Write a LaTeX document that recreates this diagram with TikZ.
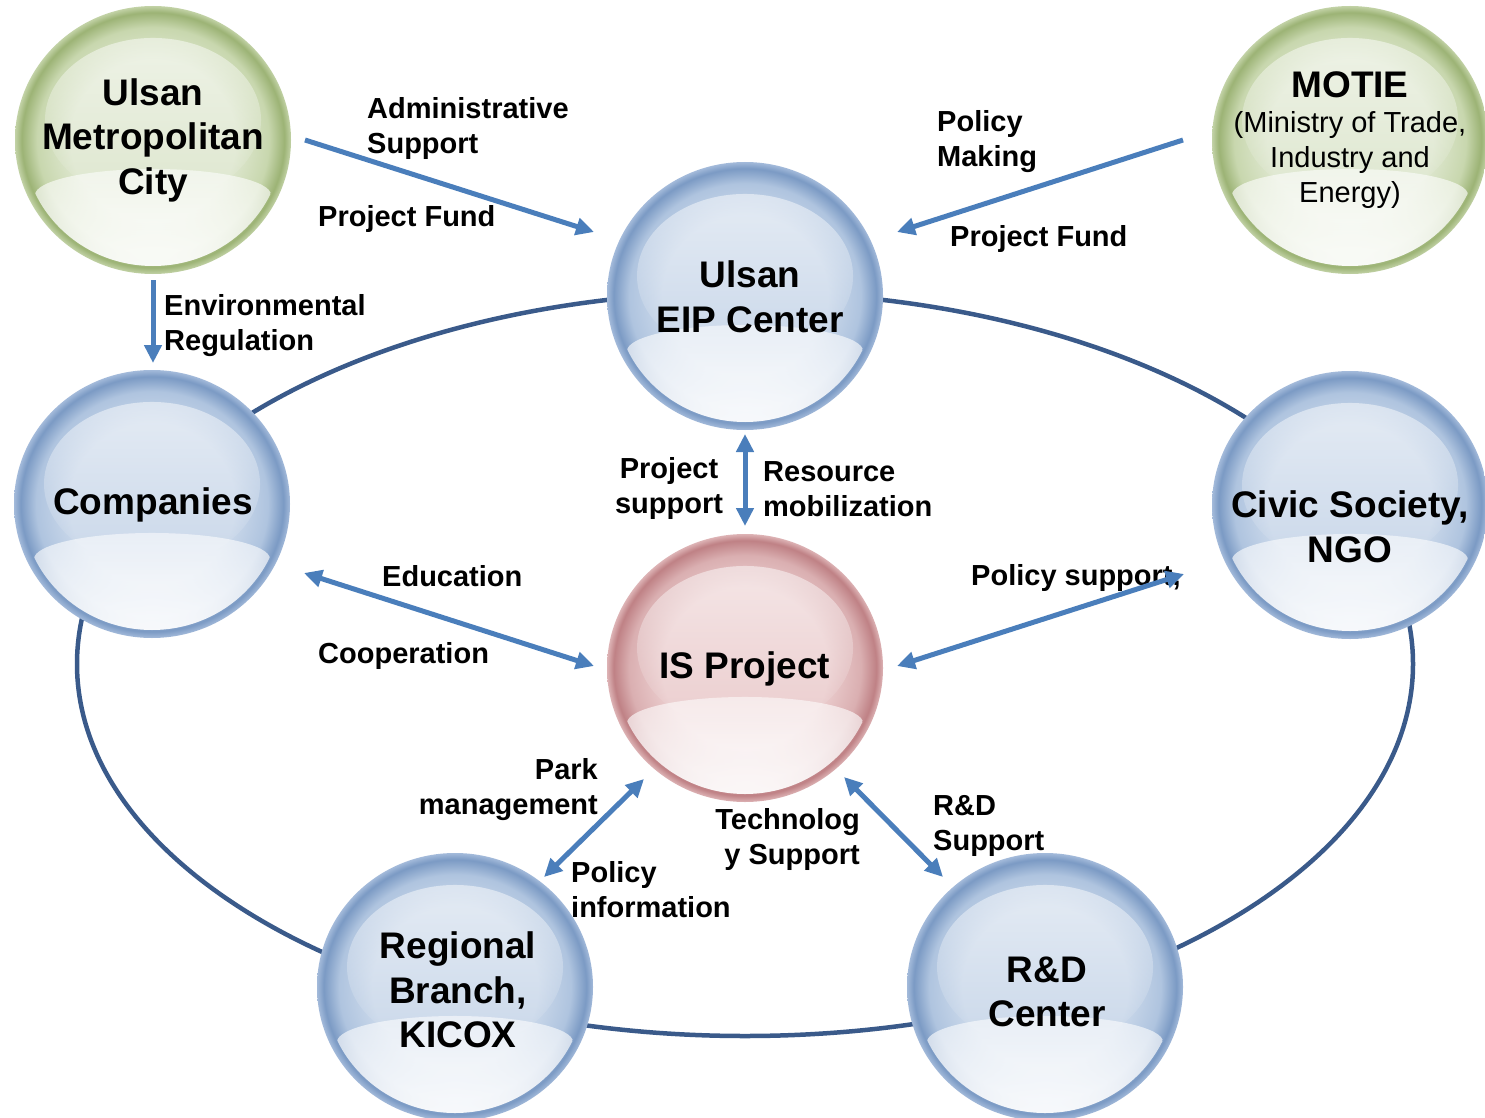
\documentclass[tikz,border=0pt]{standalone}
\usepackage{fontspec}
\setmainfont{Liberation Sans}
\usetikzlibrary{arrows.meta,fadings}
\definecolor{bluerim}{HTML}{7B9AC4}
\definecolor{blueedge}{HTML}{A3BADA}
\definecolor{bluemid}{HTML}{AFC4DF}
\definecolor{bluein}{HTML}{CAD8EA}
\definecolor{greenrim}{HTML}{9CB375}
\definecolor{greenedge}{HTML}{C2D2A6}
\definecolor{greenmid}{HTML}{C8D7AE}
\definecolor{greenin}{HTML}{DEE7CF}
\definecolor{redrim}{HTML}{BF8185}
\definecolor{rededge}{HTML}{DDB3B5}
\definecolor{redmid}{HTML}{DAAFB1}
\definecolor{redin}{HTML}{EBCDCE}
\definecolor{arrowblue}{HTML}{4A7EBB}
\definecolor{ringblue}{HTML}{3A5A8A}
\pgfdeclareradialshading{ballblue}{\pgfpointorigin}{color(0bp)=(bluein); color(15bp)=(bluein); color(21bp)=(bluemid); color(23.8bp)=(bluerim); color(25bp)=(blueedge); color(50bp)=(blueedge)}
\pgfdeclareradialshading{ballgreen}{\pgfpointorigin}{color(0bp)=(greenin); color(15bp)=(greenin); color(21bp)=(greenmid); color(23.8bp)=(greenrim); color(25bp)=(greenedge); color(50bp)=(greenedge)}
\pgfdeclareradialshading{ballred}{\pgfpointorigin}{color(0bp)=(redin); color(15bp)=(redin); color(21bp)=(redmid); color(23.8bp)=(redrim); color(25bp)=(rededge); color(50bp)=(rededge)}
\tikzfading[name=capfade, top color=transparent!50, bottom color=transparent!100]
\tikzfading[name=bowlfade, top color=transparent!45, bottom color=transparent!0]
\newcommand\glassball[3]{%
  \begin{scope}
    \clip (#1,#2) ellipse [x radius=138, y radius=134];
    \shade[shading=ball#3] (#1,#2) ellipse [x radius=138, y radius=134];
    \fill[white, path fading=capfade] (#1,#2-20) ellipse [x radius=108, y radius=82];
    \clip (#1,#2) ellipse [x radius=130, y radius=126];
    \fill[white, path fading=bowlfade] (#1-118,#2+55) arc[start angle=180, end angle=360, x radius=118, y radius=26] -- (#1+118,#2+140) -- (#1-118,#2+140) -- cycle;
  \end{scope}}
\tikzset{
  lbl/.style={font=\fontsize{29}{35}\selectfont\bfseries, inner sep=0pt},
  btxt/.style={font=\fontsize{37}{44.5}\selectfont\bfseries, align=center, inner sep=0pt},
  arr/.style={draw=arrowblue, line width=5pt, -{Triangle[length=18pt,width=17pt]}},
  darr/.style={draw=arrowblue, line width=5pt, {Triangle[length=18pt,width=17pt]}-{Triangle[length=18pt,width=17pt]}},
  ring/.style={draw=ringblue, line width=4.5pt}
}
\begin{document}
\begin{tikzpicture}[x=1pt,y=-1pt]
\useasboundingbox (0,0) rectangle (1485,1118);
% big ring
\draw[ring] (745,664) ellipse [x radius=668, y radius=372];
% spheres
\glassball{153}{140}{green}
\glassball{1350}{140}{green}
\glassball{745}{296}{blue}
\glassball{152}{504}{blue}
\glassball{1350}{505}{blue}
\glassball{745}{668}{red}
\glassball{455}{987}{blue}
\glassball{1045}{987}{blue}
% sphere texts
\node[btxt] (city) at (153,140) {Ulsan\\Metropolitan\\City};
\node[btxt, font=\fontsize{29}{35}\selectfont] (motie) at (1350,140) {{\fontsize{37}{44.5}\selectfont\bfseries MOTIE}\\(Ministry of Trade,\\Industry and\\Energy)};
\node[btxt] (eip) at (750,297) {Ulsan\\EIP Center};
\node[btxt] (comp) at (153,505) {Companies};
\node[btxt] (civic) at (1350,527) {Civic Society,\\NGO};
\node[btxt] (isp) at (745,669) {IS Project};
\node[btxt] (reg) at (458,990) {Regional\\Branch,\\KICOX};
\node[btxt] (rdc) at (1047,992) {R\&D\\Center};
% labels
\node[lbl, anchor=west, align=left] (adm) at (367,129) {Administrative\\Support};
\node[lbl, anchor=west] (pf1) at (318,219) {Project Fund};
\node[lbl, anchor=west, align=left] (pm) at (937,142) {Policy\\Making};
\node[lbl, anchor=west] (pf2) at (950,239) {Project Fund};
\node[lbl, anchor=west, align=left] (env) at (164,326) {Environmental\\Regulation};
\node[lbl, align=center] (psup) at (669,488) {Project\\support};
\node[lbl, anchor=west, align=left] (rmob) at (763,489) {Resource\\mobilization};
\node[lbl, anchor=west] (edu) at (382,576) {Education};
\node[lbl, anchor=west] (coop) at (318,656) {Cooperation};
\node[lbl, anchor=west] (polsup) at (971,578) {Policy support,};
\node[lbl, anchor=east, align=right] (park) at (598,790) {Park\\management};
\node[lbl, anchor=east, align=right] (tech) at (860,839) {Technolog\\y Support};
\node[lbl, anchor=west, align=left] (polinf) at (571,890) {Policy\\information};
\node[lbl, anchor=west, align=left] (rdsup) at (933,826) {R\&D\\Support};
% arrow end points
\coordinate (a1s) at (305,140); \coordinate (a1e) at (594,232);
\coordinate (a2s) at (1183,140); \coordinate (a2e) at (897,232);
\coordinate (a3s) at (153,280); \coordinate (a3e) at (153,363);
\coordinate (a4s) at (745,434); \coordinate (a4e) at (745,526);
\coordinate (a5s) at (304,573); \coordinate (a5e) at (594,666);
\coordinate (a6s) at (1184,574); \coordinate (a6e) at (897,666);
\coordinate (a7s) at (644,779); \coordinate (a7e) at (544,877);
\coordinate (a8s) at (844,777); \coordinate (a8e) at (943,877);
% arrows
\draw[arr] (a1s) -- (a1e);
\draw[arr] (a2s) -- (a2e);
\draw[arr] (a3s) -- (a3e);
\draw[darr] (a4s) -- (a4e);
\draw[darr] (a5s) -- (a5e);
\draw[darr] (a6s) -- (a6e);
\draw[darr] (a7s) -- (a7e);
\draw[darr] (a8s) -- (a8e);
\end{tikzpicture}
\end{document}
